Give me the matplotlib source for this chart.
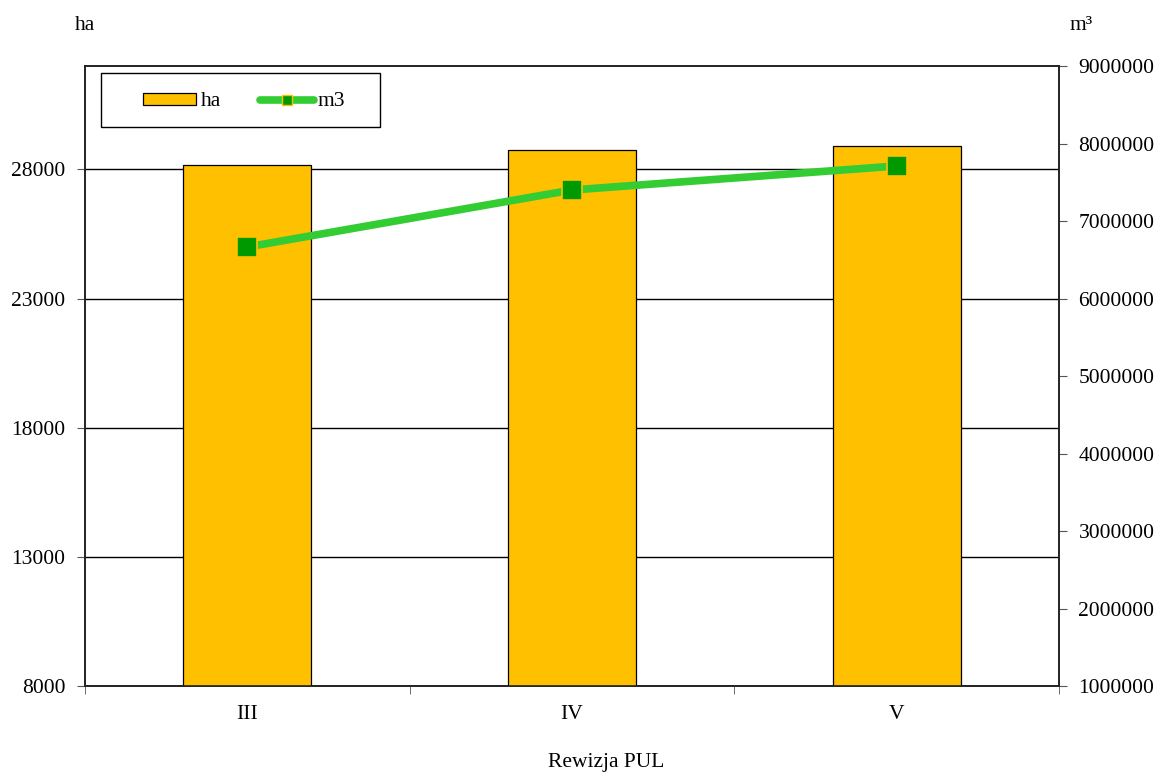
import matplotlib.pyplot as plt
from matplotlib.lines import Line2D
from matplotlib.patches import Patch, Rectangle

# data
revisions = ['III', 'IV', 'V']
area_ha = [28150, 28740, 28890]
volume_m3 = [6665000, 7400000, 7710000]

left_ticks = [8000, 13000, 18000, 23000, 28000]
right_ticks = [1000000, 2000000, 3000000, 4000000, 5000000, 6000000, 7000000, 8000000, 9000000]

plt.rcParams['font.family'] = ['Liberation Serif', 'DejaVu Serif']
plt.rcParams['font.size'] = 15.5

W, H = 1158, 772
fig = plt.figure(figsize=(W / 100, H / 100), dpi=100)
ax = fig.add_axes([85/W, 86/H, 974/W, 620/H])
ax2 = ax.twinx()

x = list(range(len(revisions)))
ax.bar(x, area_ha, width=0.395, color='#FFC000', edgecolor='black', linewidth=0.9, zorder=3)
ax.set_ylim(8000, 32000)
ax.set_xlim(-0.5, 2.5)
ax.set_yticks(left_ticks)
ax.set_yticklabels([str(v) for v in left_ticks])
ax.yaxis.grid(True, color='black', linewidth=1.0, zorder=0)
ax.set_axisbelow(True)

ax.set_xticks(x)
ax.set_xticklabels(revisions)
ax.tick_params(axis='x', which='major', length=0, pad=14)
ax.set_xticks([-0.5, 0.5, 1.5, 2.5], minor=True)
ax.tick_params(axis='x', which='minor', length=6, direction='out', color='#555555')
ax.tick_params(axis='y', length=6, direction='out', color='#555555', pad=8)

ax2.plot(x, volume_m3, color='#33CC33', linewidth=5.5, marker='s', markersize=14,
         markerfacecolor='#009900', markeredgecolor='#FFC000', markeredgewidth=1.2, zorder=4)
ax2.set_ylim(1000000, 9000000)
ax2.set_yticks(right_ticks)
ax2.set_yticklabels([str(v) for v in right_ticks])
ax2.tick_params(axis='y', length=6, direction='out', color='#555555', pad=8)

for a in (ax, ax2):
    for s in a.spines.values():
        s.set_color('#222222')
        s.set_linewidth(1.2)

fig.text(75/W, 1 - 25/H, 'ha', ha='left', va='center', fontsize=15.5)
fig.text(1069/W, 1 - 25/H, 'm³', ha='left', va='center', fontsize=15.5)
fig.text(606/W, 1 - 762/H, 'Rewizja PUL', ha='center', va='center', fontsize=15.5)

# legend box drawn by hand, entries centred inside it
frame = Rectangle((101/W, 1 - 127/H), 279/W, 54/H, transform=fig.transFigure,
                  facecolor='white', edgecolor='black', linewidth=1.0, zorder=10)
fig.patches.append(frame)

handles = [Patch(facecolor='#FFC000', edgecolor='black', linewidth=0.9),
           Line2D([0], [0], color='#33CC33', linewidth=5.5, marker='s', markersize=7,
                  markerfacecolor='#009900', markeredgecolor='#FFC000', solid_capstyle='round')]
leg = fig.legend(handles, ['ha', 'm3'], ncol=2, loc='center',
                 bbox_to_anchor=(244/W, 1 - 102/H), frameon=False,
                 handlelength=2.5, handletextpad=0.2, columnspacing=1.8,
                 handleheight=0.5, borderpad=0)
leg.set_zorder(11)

fig.savefig('out.png', dpi=100)
